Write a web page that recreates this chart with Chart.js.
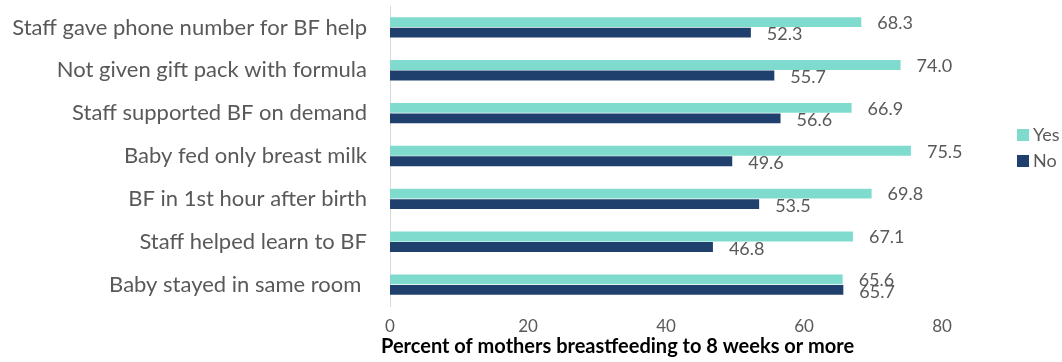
<!DOCTYPE html>
<html>
<head>
<meta charset="utf-8">
<script src="https://cdn.jsdelivr.net/npm/chart.js"></script>
<style>
  html, body { margin: 0; padding: 0; background: #fff; }
  .chart-wrapper { position: relative; width: 1062px; height: 362px; }
</style>
</head>
<body>
<div class="chart-wrapper">
  <canvas id="bfChart"></canvas>
</div>
<script>
// Hospital practices vs. breastfeeding to 8 weeks
const categories = [
  'Staff gave phone number for BF help',
  'Not given gift pack with formula',
  'Staff supported BF on demand',
  'Baby fed only breast milk',
  'BF in 1st hour after birth',
  'Staff helped learn to BF',
  'Baby stayed in same room '
];
const yesValues = [68.3, 74.0, 66.9, 75.5, 69.8, 67.1, 65.6];
const noValues = [52.3, 55.7, 56.6, 49.6, 53.5, 46.8, 65.7];
const xTicks = [0, 20, 40, 60, 80];
const axisTitle = 'Percent of mothers breastfeeding to 8 weeks or more';

const FONT = 'Lato, "Open Sans", sans-serif';
const GREY = '#595959';

// value labels just past the end of each bar
const barLabels = {
  id: 'barLabels',
  afterDatasetsDraw(chart) {
    const ctx = chart.ctx;
    ctx.save();
    ctx.font = '18px ' + FONT;
    ctx.fillStyle = GREY;
    ctx.textAlign = 'left';
    ctx.textBaseline = 'middle';
    chart.data.datasets.forEach((ds, i) => {
      const meta = chart.getDatasetMeta(i);
      meta.data.forEach((bar, j) => {
        const dy = i === 0 ? 1 : 2;
        ctx.fillText(ds.data[j].toFixed(1), bar.x + 16, bar.y + dy);
      });
    });
    ctx.restore();
  }
};

// legend box on the right + axis title
const sideLegend = {
  id: 'sideLegend',
  afterDraw(chart) {
    const ctx = chart.ctx;
    const area = chart.chartArea;
    ctx.save();
    ctx.font = '18px ' + FONT;
    ctx.textBaseline = 'middle';
    ctx.textAlign = 'left';
    chart.data.datasets.forEach((ds, i) => {
      const y = 135 + i * 26;
      ctx.fillStyle = ds.backgroundColor;
      ctx.fillRect(1017, y - 6, 12, 12);
      ctx.fillStyle = GREY;
      ctx.fillText(ds.label, 1033, y);
    });

    ctx.font = 'bold 20px ' + FONT;
    ctx.fillStyle = '#000';
    ctx.fillText(axisTitle, area.left - 9, 347);
    ctx.restore();
  }
};

const ctx = document.getElementById('bfChart').getContext('2d');
new Chart(ctx, {
  type: 'bar',
  data: {
    labels: categories,
    datasets: [
      {
        label: 'Yes',
        data: yesValues,
        backgroundColor: '#80DBCF',
        categoryPercentage: 0.49,
        barPercentage: 0.94
      },
      {
        label: 'No',
        data: noValues,
        backgroundColor: '#1F3F6D',
        categoryPercentage: 0.49,
        barPercentage: 0.94
      }
    ]
  },
  options: {
    indexAxis: 'y',
    responsive: true,
    maintainAspectRatio: false,
    animation: false,
    layout: { padding: { top: 6, right: 120, left: 0, bottom: 0 } },
    plugins: {
      legend: { display: false },
      tooltip: { enabled: false }
    },
    scales: {
      x: {
        min: 0,
        max: 80,
        afterBuildTicks(scale) {
          scale.ticks = xTicks.map(v => ({ value: v }));
        },
        afterFit(scale) {
          scale.height = 56;
          scale.paddingLeft = 0;
          scale.paddingRight = 0;
        },
        grid: { display: false, drawTicks: false },
        border: { display: false },
        ticks: {
          padding: 10,
          color: GREY,
          font: { family: FONT, size: 17 }
        }
      },
      y: {
        afterFit(scale) {
          scale.width = 390;
          scale.paddingTop = 0;
          scale.paddingBottom = 0;
        },
        grid: { display: false, drawTicks: false },
        border: { display: true, color: '#D9D9D9', width: 1 },
        ticks: {
          padding: 23,
          color: GREY,
          font: { family: FONT, size: 22 }
        }
      }
    }
  },
  plugins: [barLabels, sideLegend]
});
</script>
</body>
</html>
